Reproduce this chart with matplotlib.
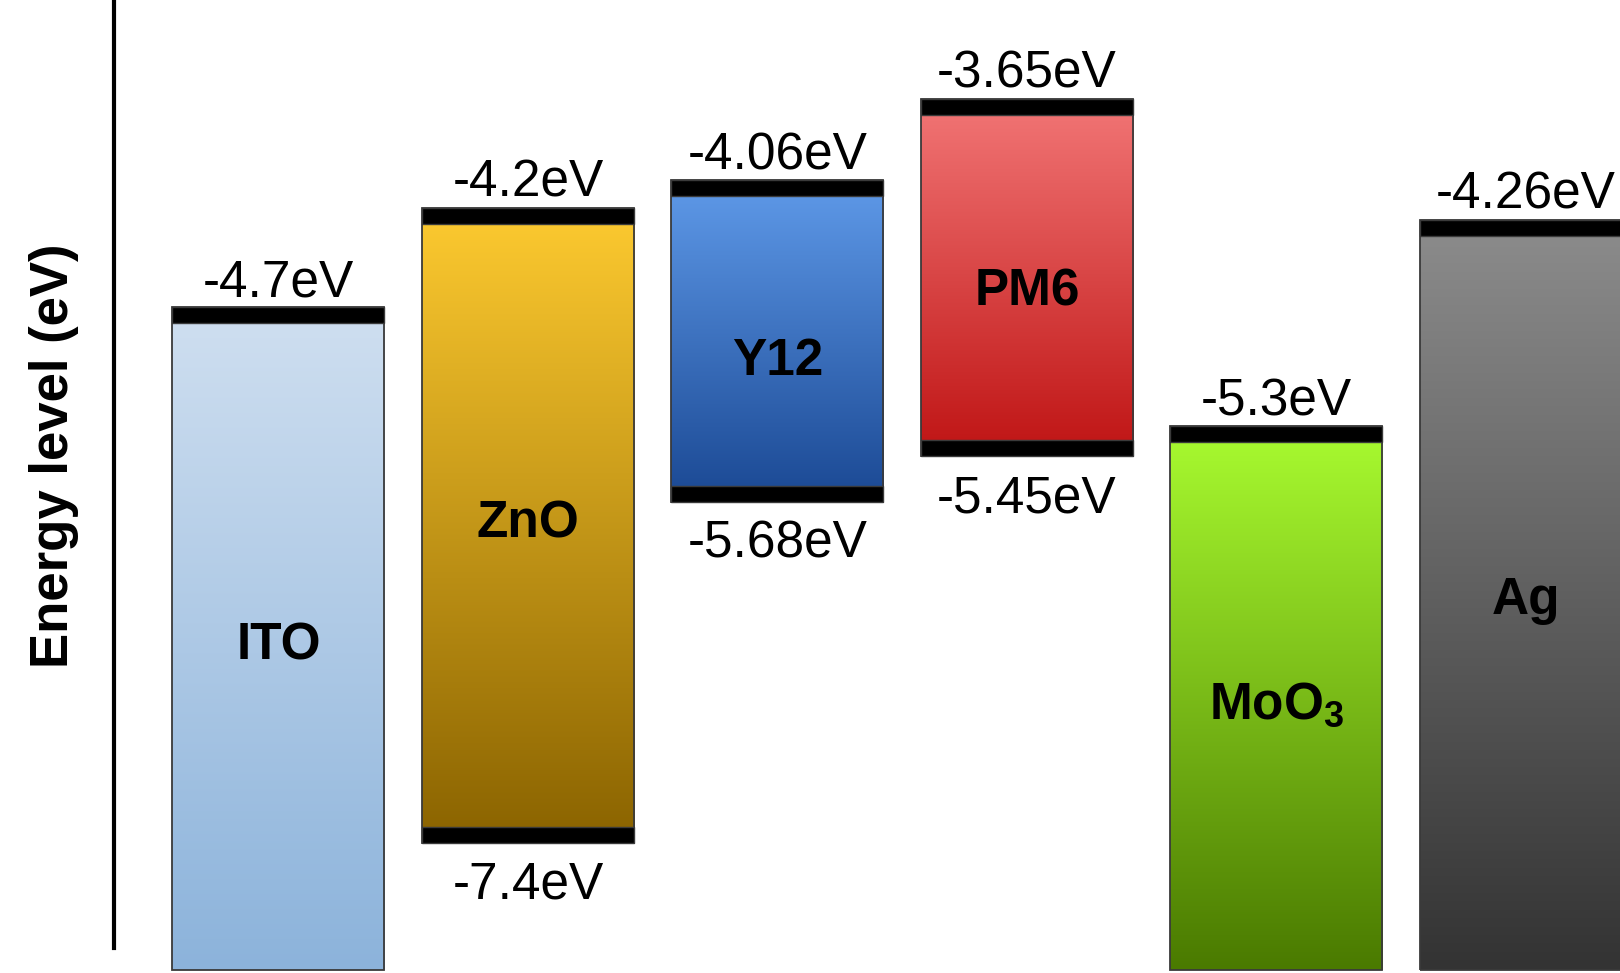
import matplotlib
matplotlib.use("Agg")
import matplotlib.pyplot as plt
import numpy as np
from matplotlib.patches import Rectangle
from matplotlib.colors import to_rgb

plt.rcParams['font.family'] = ['Liberation Sans', 'DejaVu Sans']
plt.rcParams['mathtext.fontset'] = 'custom'
plt.rcParams['mathtext.bf'] = 'Liberation Sans:bold'
plt.rcParams['mathtext.rm'] = 'Liberation Sans'

# energy levels (eV); None = layer runs off the bottom of the diagram
materials = ['ITO', 'ZnO', 'Y12', 'PM6', r'$\mathbf{MoO_3}$', 'Ag']
upper_levels = [-4.7, -4.2, -4.06, -3.65, -5.3, -4.26]
lower_levels = [None, -7.4, -5.68, -5.45, None, None]
top_colors = ['#cfdff0', '#fdca30', '#5f9ae9', '#f27676', '#a9fb30', '#8c8c8c']
bottom_colors = ['#8cb3db', '#8a6300', '#1a4893', '#bf1414', '#4a7a00', '#333333']
# small nudges of the name labels away from the bar middle (eV)
name_nudge = [-0.01, 0.035, -0.075, -0.045, -0.01, 0.0]

bar_width = 0.85
band = 0.08          # thickness of the black level bars
floor = -8.04        # where open-ended bars stop
y_min, y_max = -8.056, -3.15

fig = plt.figure(figsize=(16.2, 9.73), dpi=100)
ax = fig.add_axes([0, 0, 1, 1])

for i, name in enumerate(materials):
    top = upper_levels[i]
    bot = lower_levels[i] if lower_levels[i] is not None else floor
    x0, x1 = i - bar_width / 2, i + bar_width / 2

    # vertical gradient fill
    c_top = np.array(to_rgb(top_colors[i]))
    c_bot = np.array(to_rgb(bottom_colors[i]))
    t = np.linspace(0, 1, 256)[:, None]
    grad = (c_top * (1 - t) + c_bot * t)[:, None, :]
    ax.imshow(grad, extent=[x0, x1, bot, top], aspect='auto',
              origin='upper', interpolation='bilinear', zorder=1)
    ax.add_patch(Rectangle((x0, bot), bar_width, top - bot, fill=False,
                           edgecolor='#3a3a3a', linewidth=1.3, zorder=2))

    # black level bars + value labels
    ax.add_patch(Rectangle((x0, top - band), bar_width, band,
                           facecolor='black', edgecolor='#3a3a3a', lw=1, zorder=3))
    ax.text(i, top + 0.057, f'{top:g}eV', ha='center', va='baseline',
            fontsize=37, zorder=4)
    if lower_levels[i] is not None:
        ax.add_patch(Rectangle((x0, bot), bar_width, band,
                               facecolor='black', edgecolor='#3a3a3a', lw=1, zorder=3))
        ax.text(i, bot - 0.09, f'{bot:g}eV', ha='center', va='top',
                fontsize=37, zorder=4)

    ax.text(i, (top + bot) / 2 + name_nudge[i], name, ha='center',
            va='center_baseline', fontsize=37, fontweight='bold', zorder=4)

# vertical energy axis
axis_x = -0.66
ax.plot([axis_x, axis_x], [-7.93, y_max], color='black', lw=3, zorder=5)
ax.text(-0.90, -5.45, 'Energy level (eV)', rotation=90, ha='center',
        va='center', fontsize=38, fontweight='bold')

ax.set_xlim(-1.116, 5.377)
ax.set_ylim(y_min, y_max)
ax.axis('off')

fig.savefig('out.png', dpi=100)
